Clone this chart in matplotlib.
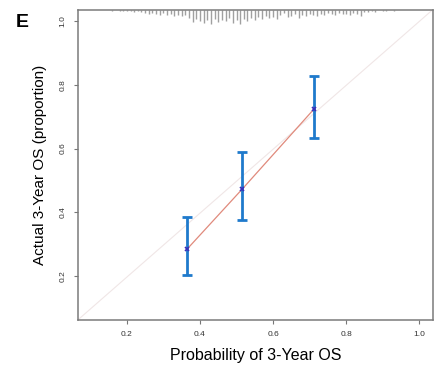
"""
Calibration curve for 3-year OS
"""
import matplotlib
matplotlib.use("Agg")
import matplotlib.pyplot as plt
import numpy as np

plt.rcParams['font.family'] = ['Liberation Sans', 'DejaVu Sans']

# calibration points (predicted vs observed) with 95% CI
pred = [0.365, 0.516, 0.711]
obs = [0.284, 0.473, 0.723]
ci_low = [0.202, 0.375, 0.632]
ci_high = [0.386, 0.590, 0.829]

# rug of predicted probabilities at the top (x position, tick length)
rug_x = [0.16, 0.18, 0.19, 0.20, 0.21, 0.22, 0.23, 0.24, 0.25, 0.26,
         0.27, 0.28, 0.29, 0.30, 0.31, 0.32, 0.33, 0.34, 0.35, 0.36,
         0.37, 0.38, 0.39, 0.40, 0.41, 0.42, 0.43, 0.44, 0.45, 0.46,
         0.47, 0.48, 0.49, 0.50, 0.51, 0.52, 0.53, 0.54, 0.55, 0.56,
         0.57, 0.58, 0.59, 0.60, 0.61, 0.62, 0.63, 0.64, 0.65, 0.66,
         0.67, 0.68, 0.69, 0.70, 0.71, 0.72, 0.73, 0.74, 0.75, 0.76,
         0.77, 0.78, 0.79, 0.80, 0.81, 0.82, 0.83, 0.84, 0.85, 0.86,
         0.87, 0.88, 0.90, 0.91, 0.93]
rug_h = [1, 1, 1, 1, 1, 2, 1, 2, 3, 4,
         3, 4, 5, 3, 5, 4, 6, 5, 6, 5,
         8, 12, 9, 11, 13, 10, 14, 9, 12, 10,
         11, 8, 13, 10, 14, 9, 11, 8, 10, 7,
         9, 6, 8, 7, 9, 5, 3, 7, 6, 4,
         8, 5, 6, 4, 5, 6, 4, 5, 3, 4,
         5, 3, 4, 4, 5, 3, 4, 6, 2, 2,
         1, 2, 1, 1, 1]

x_ticks = [0.2, 0.4, 0.6, 0.8, 1.0]
y_ticks = [0.2, 0.4, 0.6, 0.8, 1.0]
x_lim = (0.066, 1.037)
y_lim = (0.061, 1.037)

fig = plt.figure(figsize=(4.35, 3.69), dpi=100)
ax = fig.add_axes([0.179, 0.133, 0.816, 0.841])

# ideal line
ax.plot(x_lim, y_lim, color='#f0e6e6', linewidth=0.8, zorder=1)

# rug (tick length given in pixels -> data units)
px = (y_lim[1] - y_lim[0]) / 310.0
ax.vlines(rug_x, y_lim[1] - np.array(rug_h) * px, y_lim[1],
          color='#a0a0a0', linewidth=1.0, zorder=2)

# calibration line and CIs
ax.plot(pred, obs, color='#e08a7c', linewidth=0.9, zorder=3)
obs_arr = np.array(obs)
yerr = [obs_arr - np.array(ci_low), np.array(ci_high) - obs_arr]
ax.errorbar(pred, obs, yerr=yerr, fmt='none', ecolor='#1f7acc',
            elinewidth=2.0, capsize=3.5, capthick=2.0, zorder=4)
ax.plot(pred, obs, 'x', color='#3a2fb8', markersize=3.5,
        markeredgewidth=1.2, zorder=5)

ax.set_xlim(*x_lim)
ax.set_ylim(*y_lim)
ax.set_xticks(x_ticks)
ax.set_yticks(y_ticks)
ax.set_xticklabels([f"{t:.1f}" for t in x_ticks], fontsize=6)
ax.set_yticklabels([f"{t:.1f}" for t in y_ticks], fontsize=6,
                   rotation=90, va='center')
ax.tick_params(length=3, width=0.8, color='#777777', labelcolor='#333333',
               pad=5)

for side in ['left', 'bottom', 'top', 'right']:
    ax.spines[side].set_color('#7a7a7a')
    ax.spines[side].set_linewidth(1.1)

ax.set_xlabel('Probability of 3-Year OS', fontsize=11.5, labelpad=7)
ax.set_ylabel('Actual 3-Year OS (proportion)', fontsize=11, labelpad=9)

fig.text(0.052, 0.94, 'E', fontsize=14, fontweight='bold', ha='center',
         va='center')

plt.savefig('out.png', dpi=100)
plt.close()
